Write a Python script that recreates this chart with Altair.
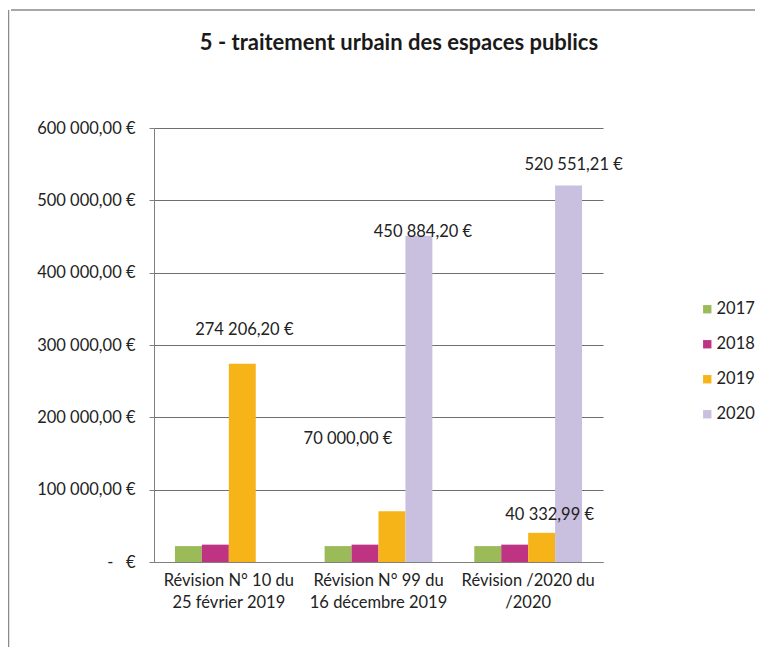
import altair as alt
import pandas as pd

# ---- data ----
categories = ["Révision N° 10 du\n25 février 2019",
              "Révision N° 99 du\n16 décembre 2019",
              "Révision /2020 du\n/2020"]
series = ["2017", "2018", "2019", "2020"]
v2017 = [22000, 22000, 22000]
v2018 = [24000, 24000, 24000]
v2019 = [274206.20, 70000.00, 40332.99]
v2020 = [0, 450884.20, 520551.21]

title_text = "5 - traitement urbain des espaces publics"

# labelled bars (category index, series)
label_cat = [0, 1, 2, 1, 2]
label_series = ["2019", "2019", "2019", "2020", "2020"]
# label nudges (style only, pixels)
label_dx = [2, -44, 8, 4, 5]
label_dy = [-34, -72, -18, -4, -20]

colors = ["#9bbb59", "#bf3482", "#f7b419", "#c9bfdf"]

FONT = "Lato"
FS = 16.5
NB = "\u00a0"


def fr_money(v):
    s = f"{v:,.2f}".replace(",", NB).replace(".", ",")
    return s + NB + "€"


rows = []
vals = {"2017": v2017, "2018": v2018, "2019": v2019, "2020": v2020}
for s in series:
    for i, c in enumerate(categories):
        rows.append({"cat": c, "series": s, "value": vals[s][i]})
df = pd.DataFrame(rows)

zero_lbl = "-" + NB * 3 + "€"
y_label_expr = ("datum.value == 0 ? '" + zero_lbl + "' : "
                "replace(replace(format(datum.value, ',.2f'), ',', '" + NB + "'), '.', ',') + '" + NB + "€'")

x_enc = alt.X("cat:N", sort=categories, title=None,
              scale=alt.Scale(paddingInner=0.28, paddingOuter=0.14),
              axis=alt.Axis(labelExpr="split(datum.label, '\\n')", labelAngle=0,
                            labelFont=FONT, labelFontSize=FS, labelColor="#222222",
                            labelLineHeight=22, labelPadding=10, ticks=False,
                            domainColor="#7f7f7f", grid=False))
xo_enc = alt.XOffset("series:N", scale=alt.Scale(domain=series, paddingInner=0, paddingOuter=0))
y_enc = alt.Y("value:Q", title=None,
              scale=alt.Scale(domain=[0, 600000], nice=False),
              axis=alt.Axis(values=[0, 100000, 200000, 300000, 400000, 500000, 600000],
                            labelExpr=y_label_expr,
                            labelFont=FONT, labelFontSize=FS, labelColor="#222222",
                            labelPadding=14, tickSize=5, tickColor="#7f7f7f",
                            domainColor="#7f7f7f", gridColor="#6f6f6f", gridWidth=1))

bars = alt.Chart(df).mark_bar().encode(
    x=x_enc,
    xOffset=xo_enc,
    y=y_enc,
    color=alt.Color("series:N", scale=alt.Scale(domain=series, range=colors), title=None,
                    legend=alt.Legend(orient="none", legendX=545, legendY=173,
                                      symbolType="square", symbolSize=70,
                                      symbolStrokeWidth=0,
                                      labelFont=FONT, labelFontSize=FS, labelColor="#222222",
                                      rowPadding=18, labelOffset=1)),
)

layers = [bars]
for i in range(len(label_cat)):
    c = categories[label_cat[i]]
    s = label_series[i]
    v = vals[s][label_cat[i]]
    ldf = pd.DataFrame([{"cat": c, "series": s, "value": v, "text": fr_money(v)}])
    layers.append(
        alt.Chart(ldf).mark_text(font=FONT, fontSize=FS, color="#222222",
                                 baseline="middle", align="center",
                                 dx=label_dx[i], dy=label_dy[i]).encode(
            x=alt.X("cat:N", sort=categories),
            xOffset=alt.XOffset("series:N"),
            y=alt.Y("value:Q"),
            text="text:N",
        )
    )

# chart title, drawn as text so the frame lines do not push it away
title = alt.Chart(pd.DataFrame({"t": [title_text]})).mark_text(
    font=FONT, fontSize=22, fontWeight="bold", color="#1a1a1a",
    align="center", baseline="middle").encode(
    x=alt.value(245), y=alt.value(-85), text="t:N")
layers.append(title)

# chart frame (top and left border of the scanned chart area)
frame_l = alt.Chart(pd.DataFrame({"a": [0]})).mark_rule(color="#8a8a8a", strokeWidth=1.5).encode(
    x=alt.value(-145.5), y=alt.value(-118), y2=alt.value(530))
frame_t = alt.Chart(pd.DataFrame({"a": [0]})).mark_rule(color="#8a8a8a", strokeWidth=1.5).encode(
    x=alt.value(-143), x2=alt.value(610), y=alt.value(-118))
layers += [frame_l, frame_t]

chart = alt.layer(*layers).properties(
    width=449, height=434,
    autosize=alt.AutoSizeParams(type="none"),
    padding={"left": 146, "top": 120, "right": 152, "bottom": 85},
).configure_view(stroke=None)

chart.save("out.html", embed_options={"renderer": "svg", "actions": False})
